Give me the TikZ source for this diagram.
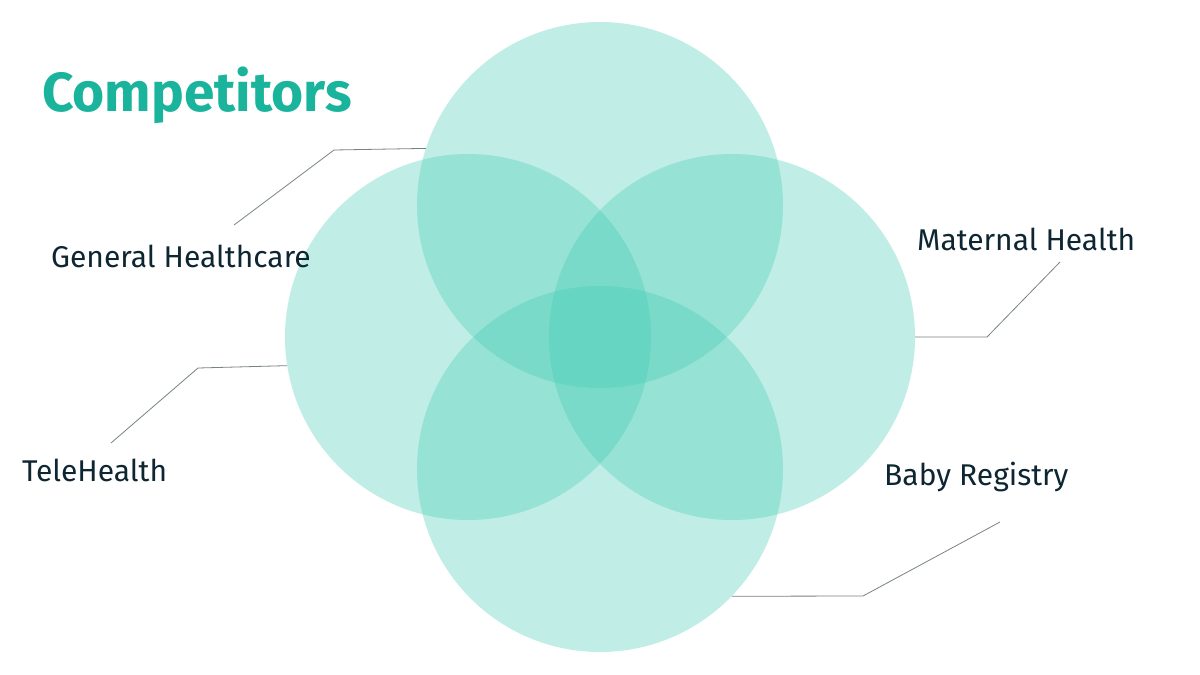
\documentclass[tikz,border=0pt]{standalone}
\usepackage{fontspec}
\setmainfont{Fira Sans}
\definecolor{vennbase}{RGB}{62,203,178}
\definecolor{titleteal}{RGB}{26,180,156}
\definecolor{labelink}{RGB}{14,38,50}
\definecolor{leadgrey}{RGB}{120,130,135}
\tikzset{
  venn/.style={circle, draw=none, fill=vennbase, fill opacity=0.32, minimum size=366pt, inner sep=0pt},
  lbl/.style={anchor=base west, inner sep=0pt, text=labelink, font=\fontsize{30}{34}\selectfont},
  lead/.style={draw=leadgrey, line width=0.8pt}
}
\begin{document}
\begin{tikzpicture}[x=1pt,y=-1pt]
\useasboundingbox (0,0) rectangle (1200,675);
\fill[white] (0,0) rectangle (1200,675);
\node[venn] (ctop) at (600,205) {};
\node[venn] (cleft) at (468,337) {};
\node[venn] (cright) at (732,337) {};
\node[venn] (cbot) at (600,469) {};
\node[anchor=base west, inner sep=0pt, text=titleteal, font=\fontsize{55}{60}\selectfont\bfseries] (title) at (42,111) {Competitors};
\node[lbl] (gh) at (51,267) {General Healthcare};
\node[lbl] (th) at (22,481) {TeleHealth};
\node[lbl] (mh) at (917,250) {Maternal Health};
\node[lbl] (br) at (884,485) {Baby Registry};
\coordinate (ghk) at (334,150);
\coordinate (ghe) at (234,225);
\coordinate (thk) at (198,368);
\coordinate (the) at (111,443);
\coordinate (mhk) at (987,337);
\coordinate (mhe) at (1060,262);
\coordinate (brk) at (863,596);
\coordinate (bre) at (1000,522);
\draw[lead] (ctop.162.5) -- (ghk) -- (ghe);
\draw[lead] (cleft.189.75) -- (thk) -- (the);
\draw[lead] (cright.east) -- (mhk) -- (mhe);
\draw[lead] (cbot.316) -- (brk) -- (bre);
\end{tikzpicture}
\end{document}
